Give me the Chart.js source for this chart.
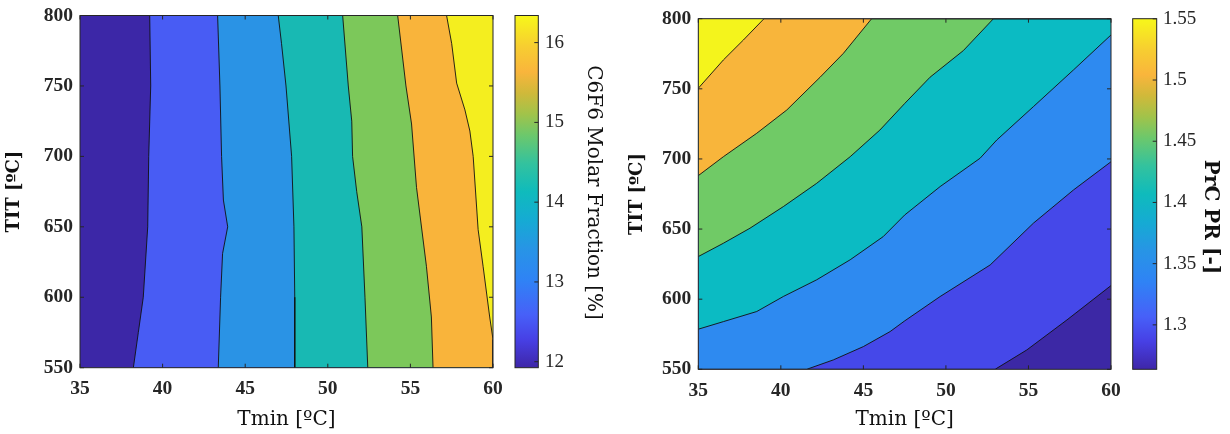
<!DOCTYPE html>
<html>
<head>
<meta charset="utf-8">
<script src="https://cdn.jsdelivr.net/npm/chart.js@4.4.1/dist/chart.umd.min.js"></script>
<style>
  html, body { margin: 0; padding: 0; background: #fff; }
  #wrap { position: relative; width: 1230px; height: 434px; }
  .pane { position: absolute; top: 0; width: 615px; height: 434px; }
</style>
</head>
<body>
<div id="wrap">
  <div class="pane" style="left:0"><canvas id="chart-c6f6" width="615" height="434"></canvas></div>
  <div class="pane" style="left:615px"><canvas id="chart-prc" width="615" height="434"></canvas></div>
</div>
<script>
// ---- axes / colorbar ticks ----
const tminTicks = [35, 40, 45, 50, 55, 60];
const titTicks = [550, 600, 650, 700, 750, 800];
const c6f6Ticks = [12, 13, 14, 15, 16];
const prTicks = [1.3, 1.35, 1.4, 1.45, 1.5, 1.55];
const c6f6Range = [11.925, 16.34];
const prRange = [1.2637, 1.5501];

// ---- C6F6 molar fraction contour lines, [Tmin, TIT], top -> bottom ----
const c6f6Lines = [
  [[39.22, 800], [39.28, 750], [39.16, 700], [39.1, 650], [38.83, 600], [38.53, 575], [38.23, 550]],
  [[43.33, 800], [43.47, 750], [43.57, 700], [43.68, 669], [43.94, 650], [43.63, 631], [43.51, 600], [43.37, 550]],
  [[47.0, 800], [47.2, 780], [47.47, 750], [47.81, 700], [47.95, 650], [48.0, 600], [48.0, 550]],
  [[50.9, 800], [51.24, 750], [51.45, 725], [51.5, 700], [51.75, 675], [52.06, 650], [52.25, 600], [52.42, 550]],
  [[54.23, 800], [54.73, 750], [55.07, 723], [55.37, 678], [55.97, 622], [56.27, 586], [56.37, 550]],
  [[57.19, 800], [57.5, 780], [57.8, 752], [58.3, 733], [58.6, 718], [58.8, 700], [59.1, 648], [59.4, 622], [59.8, 586], [60, 570]]
];

// ---- PrC pressure ratio contour lines, [Tmin, TIT], left -> right ----
const prLines = [
  [[52.98, 550], [54.9, 563.8], [57.33, 585.2], [60, 609.7]],
  [[41.57, 550], [43.18, 556.7], [45.0, 566.2], [46.62, 576.9], [47.5, 584.5], [49.65, 601.9], [52.68, 624.4], [55.3, 654.2], [57.73, 677.9], [60, 698]],
  [[35, 578.6], [36.52, 584], [38.54, 591.2], [40.15, 601.9], [42.17, 613.8], [44.2, 628.1], [46.2, 644.6], [47.5, 660], [49.65, 680.3], [52.07, 700.5], [53.08, 713.5], [55.3, 737.3], [57.73, 763.5], [60, 788.4]],
  [[35, 630.4], [36.52, 639.9], [38.13, 650.6], [40.15, 666], [42.17, 682.6], [44.2, 701.6], [46.0, 720.6], [47.5, 739.5], [49.04, 758.3], [51.06, 777.3], [52.88, 800]],
  [[35, 688.1], [36.52, 701.6], [38.54, 718.3], [40.36, 734.9], [42.38, 758.3], [43.79, 775.3], [45.5, 800]],
  [[35, 750.4], [36.52, 770.6], [37.73, 784.8], [38.98, 800]]
];

// band colours (lowest band first)
const c6f6Fills = ['#3c27a7', '#485cf4', '#2a93e5', '#18b9b3', '#7cc85a', '#f9b43b', '#f4ee1f'];
const prFills = ['#3c28a5', '#4548e9', '#2e8af0', '#0bbbc3', '#70ca66', '#f8b53b', '#f4f41c'];

// parula-like colorbar gradient
const parula = [[0, '#3e26a8'], [0.08, '#4740e5'], [0.15, '#4760f8'], [0.25, '#2f83f5'], [0.34, '#2795e5'],
  [0.42, '#15abd3'], [0.5, '#0fbbbc'], [0.58, '#33c29e'], [0.66, '#6cc86c'], [0.72, '#a1c34a'],
  [0.78, '#d0b93a'], [0.84, '#f9b53c'], [0.91, '#f7cd31'], [1, '#f7f71a']];

const SERIF = "'DejaVu Serif', 'Liberation Serif', serif";
const NUMS = "'Liberation Serif', 'DejaVu Serif', serif";
const INK = '#262626';

const framePlugin = {
  id: 'frame',
  beforeDatasetsDraw(chart, args, o) {
    const a = chart.chartArea, ctx = chart.ctx;
    ctx.save();
    ctx.fillStyle = o.base;
    ctx.fillRect(a.left, a.top, a.right - a.left, a.bottom - a.top);
    ctx.restore();
  },
  afterDatasetsDraw(chart, args, o) {
    const a = chart.chartArea, ctx = chart.ctx;
    const xs = chart.scales.x, ys = chart.scales.y, cb = chart.scales.cb;
    ctx.save();
    ctx.strokeStyle = INK;
    ctx.lineWidth = 1;
    ctx.strokeRect(a.left, a.top, a.right - a.left, a.bottom - a.top);
    ctx.beginPath();
    xs.ticks.forEach(t => {
      const px = xs.getPixelForValue(t.value);
      ctx.moveTo(px, a.bottom); ctx.lineTo(px, a.bottom - 4);
      ctx.moveTo(px, a.top); ctx.lineTo(px, a.top + 4);
    });
    ys.ticks.forEach(t => {
      const py = ys.getPixelForValue(t.value);
      ctx.moveTo(a.left, py); ctx.lineTo(a.left + 4, py);
      ctx.moveTo(a.right, py); ctx.lineTo(a.right - 4, py);
    });
    ctx.stroke();

    // colorbar
    const x0 = cb.left + o.cbGap, w = o.cbWidth;
    const yTop = cb.getPixelForValue(cb.max), yBot = cb.getPixelForValue(cb.min);
    const g = ctx.createLinearGradient(0, yBot, 0, yTop);
    parula.forEach(([t, c]) => g.addColorStop(t, c));
    ctx.fillStyle = g;
    ctx.fillRect(x0, yTop, w, yBot - yTop);
    ctx.strokeRect(x0, yTop, w, yBot - yTop);
    ctx.beginPath();
    cb.ticks.forEach(t => {
      const py = cb.getPixelForValue(t.value);
      ctx.moveTo(x0 + w, py); ctx.lineTo(x0 + w - 4, py);
    });
    ctx.stroke();

    // colorbar label, rotated clockwise
    ctx.translate(cb.right - o.titleInset, (yTop + yBot) / 2 + o.titleShift);
    ctx.rotate(Math.PI / 2);
    ctx.fillStyle = '#111';
    ctx.font = (o.titleBold ? 'bold ' : '') + '20px ' + SERIF;
    ctx.textAlign = 'center';
    ctx.textBaseline = 'middle';
    ctx.fillText(o.title, 0, 0);
    ctx.restore();
  }
};

function noPad(s) { s.paddingTop = 0; s.paddingBottom = 0; s.paddingLeft = 0; s.paddingRight = 0; }

function makeContour(id, cfg) {
  const xMin = tminTicks[0], xMax = tminTicks[tminTicks.length - 1];
  const yMin = titTicks[0], yMax = titTicks[titTicks.length - 1];
  const n = cfg.lines.length;
  const datasets = cfg.lines.map((line, i) => {
    const pts = line.map(p => ({ x: p[0], y: p[1] }));
    if (cfg.horizontal) {
      // close the band along the plot edges
      if (pts[0].x > xMin) pts.unshift({ x: xMin, y: yMin });
      if (pts[pts.length - 1].x < xMax) pts.push({ x: xMax, y: yMax });
    } else {
      if (pts[pts.length - 1].y > yMin) pts.push({ x: xMax, y: yMin });
    }
    return {
      data: pts, xAxisID: 'x', yAxisID: 'y', order: n - i,
      fill: cfg.horizontal ? { value: yMax } : { value: xMax },
      backgroundColor: cfg.fills[i + 1],
      borderColor: '#111', borderWidth: 0.9,
      pointRadius: 0, tension: 0
    };
  });

  const tickFont = { family: NUMS, size: 19.5, weight: 'bold' };
  new Chart(document.getElementById(id), {
    type: 'line',
    data: { datasets },
    options: {
      responsive: false, animation: false, events: [],
      indexAxis: cfg.horizontal ? 'x' : 'y',
      layout: { padding: { top: cfg.area.top, left: 0, right: 0, bottom: 0 } },
      plugins: {
        legend: { display: false }, tooltip: { enabled: false },
        frame: { base: cfg.fills[0], cbGap: cfg.cbGap, cbWidth: cfg.cbWidth,
          title: cfg.cbTitle, titleBold: cfg.cbBold, titleInset: cfg.cbTitleInset, titleShift: cfg.cbTitleShift }
      },
      scales: {
        x: {
          type: 'linear', position: 'bottom', min: xMin, max: xMax,
          grid: { display: false, drawTicks: false }, border: { display: false },
          afterBuildTicks: s => { s.ticks = tminTicks.map(v => ({ value: v })); },
          afterFit: s => { s.height = 434 - cfg.area.bottom; noPad(s); },
          ticks: { font: tickFont, color: INK, padding: 10, maxRotation: 0 },
          title: { display: true, text: 'Tmin [ºC]', color: '#111',
            font: { family: SERIF, size: 20 }, padding: { top: 0, bottom: 2.5 } }
        },
        y: {
          type: 'linear', position: 'left', min: yMin, max: yMax,
          grid: { display: false, drawTicks: false }, border: { display: false },
          afterBuildTicks: s => { s.ticks = titTicks.map(v => ({ value: v })); },
          afterFit: s => { s.width = cfg.area.left; noPad(s); },
          ticks: { font: tickFont, color: INK, padding: 7 },
          title: { display: true, text: 'TIT [ºC]', color: '#111',
            font: { family: SERIF, size: 18, weight: 'bold' }, padding: { top: cfg.yTitlePad, bottom: 0 } }
        },
        cb: {
          type: 'linear', axis: 'y', position: 'right', min: cfg.range[0], max: cfg.range[1],
          grid: { display: false, drawTicks: false }, border: { display: false },
          afterBuildTicks: s => { s.ticks = cfg.cbTicks.map(v => ({ value: v })); },
          afterFit: s => { s.width = 615 - cfg.area.right; noPad(s); },
          ticks: { font: { family: NUMS, size: 19 }, color: INK, padding: 52,
            callback: v => String(v) }
        }
      }
    },
    plugins: [framePlugin]
  });
}

makeContour('chart-c6f6', {
  lines: c6f6Lines, fills: c6f6Fills, horizontal: false,
  range: c6f6Range, cbTicks: c6f6Ticks, cbTitle: 'C6F6 Molar Fraction [%]', cbBold: false,
  area: { left: 80, right: 493, top: 15.5, bottom: 367.7 },
  cbGap: 22, cbWidth: 23.3, yTitlePad: 4, cbTitleInset: 22, cbTitleShift: 1
});

makeContour('chart-prc', {
  lines: prLines, fills: prFills, horizontal: true,
  range: prRange, cbTicks: prTicks, cbTitle: 'PrC PR [-]', cbBold: true,
  area: { left: 83.3, right: 496, top: 18.7, bottom: 369.3 },
  cbGap: 21.7, cbWidth: 24, yTitlePad: 12, cbTitleInset: 20, cbTitleShift: 23
});
</script>
</body>
</html>
